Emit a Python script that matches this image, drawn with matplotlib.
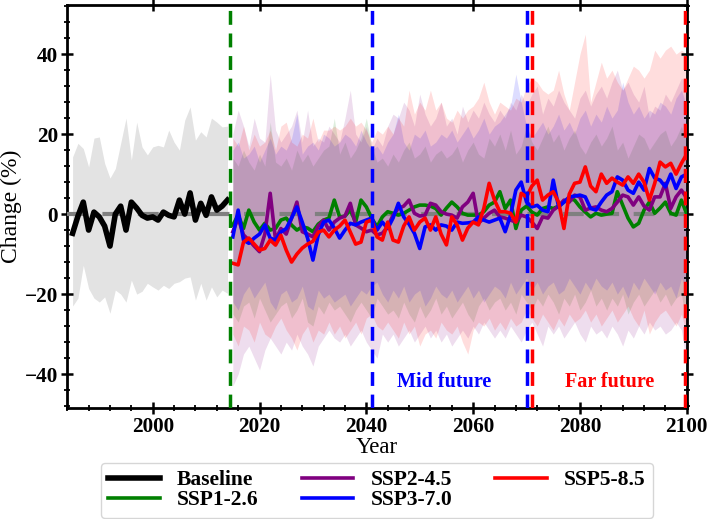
import matplotlib
matplotlib.use("Agg")
import matplotlib.pyplot as plt
import numpy as np
from matplotlib.ticker import MultipleLocator

plt.rcParams['font.family'] = ['Liberation Serif', 'DejaVu Serif']

# ---- baseline (1985-2014) ----
base_years = list(range(1985, 2015))
base_mean = [-4.8, -0.5, 3.0, -4.0, 0.5, -0.7, -3.0, -8.0, 0.0, 2.0,
             -4.0, 3.0, 1.5, -0.3, -1.0, -0.7, -1.5, 0.5, -0.3, -0.7,
             3.5, 0.0, 5.3, -1.5, 2.7, -0.3, 4.3, 1.0, 2.0, 3.5]
base_upper = [14.3, 17.7, 16.4, 11.8, 19.0, 19.3, 12.7, 9.0, 11.4, 17.7,
              24.0, 13.5, 23.0, 16.8, 14.8, 16.8, 17.2, 16.8, 21.0, 18.0,
              16.0, 23.5, 26.8, 18.5, 20.6, 19.3, 24.0, 23.0, 21.8, 22.0]
base_lower = [-23.0, -21.0, -12.8, -18.6, -21.0, -22.0, -20.7, -24.8, -19.0, -20.0,
              -22.0, -16.5, -20.0, -19.3, -17.3, -18.2, -19.0, -17.8, -18.6, -17.3,
              -16.9, -16.0, -15.7, -21.5, -17.3, -21.5, -18.2, -20.7, -19.0, -19.8]

# ---- scenarios (2015-2100) ----
ssp_years = list(range(2015, 2101))

ssp126_mean = [-2.75, -0.25, -3.6, 1.0, -2.0, -4.0, -2.3, -4.0, -3.6, -1.5,
               -1.0, -2.75, -4.0, -3.2, -3.5, -4.4, -2.5, -1.5, -1.0, 3.5,
               -0.7, -0.5, 1.0, -2.0, 3.5, 1.8, -1.0, -3.2, -0.7, 0.6,
               0.2, -0.25, 0.2, 1.0, 1.8, 2.25, 2.25, 2.0, 1.4, -0.25,
               1.5, 3.0, 1.8, 0.2, -0.25, -0.25, -0.25, 0.6, 2.25, 3.0,
               5.6, 1.4, 3.5, -3.6, 1.0, 2.0, 0.5, -0.25, 1.4, 1.8,
               1.4, 2.0, 3.0, 3.9, 3.5, 1.8, 0.5, -0.7, 0.2, -0.25,
               0.0, 0.2, 5.6, 2.25, -1.0, -3.2, -2.3, 1.0, 3.0, 0.2,
               1.5, 3.0, 0.2, -0.25, 3.5, 0.0]
ssp245_mean = [-4.4, -1.0, -5.2, -6.5, -8.0, -9.4, -5.0, 5.2, -6.5, -3.6,
               -5.0, -1.0, 3.0, -4.4, -5.0, -5.7, -3.0, -1.5, -4.0, -2.0,
               -1.0, -0.5, 2.7, -2.7, -3.5, -4.4, -4.0, -5.2, -4.8, -3.2,
               -0.25, 1.4, 2.0, 3.5, 0.2, -0.5, -0.25, 2.7, 2.25, 0.6,
               0.0, -0.25, -1.0, 1.8, 3.0, 5.2, -2.3, -1.0, 0.2, 1.0,
               -0.7, -1.0, -1.5, -2.0, -0.25, -0.7, -2.0, -3.6, -0.7, -1.0,
               1.0, 2.0, 3.5, 3.0, 4.75, 4.3, 1.0, 1.5, 1.8, 1.0,
               0.6, 1.4, 3.0, 4.75, 4.3, 2.25, 4.3, 2.0, 1.0, 4.3,
               4.3, 7.7, 1.4, 4.3, 6.0, 4.0]
ssp370_mean = [-5.7, 1.0, -6.5, -7.3, -6.0, -5.0, -2.7, -6.0, -6.5, -4.5,
               -3.6, -1.0, 1.8, -2.0, -6.0, -11.5, -5.2, -2.0, -1.5, -3.5,
               -6.0, -4.0, -2.3, -2.7, -2.0, -1.5, -1.0, -4.0, -2.0, -3.6,
               -1.0, 2.7, -0.7, -2.5, -4.8, -8.6, -3.2, -2.7, -4.0, -2.7,
               -3.0, -4.0, -2.0, -2.3, -2.2, -2.0, -0.7, -1.5, -2.0, -1.5,
               -1.0, -4.4, -0.3, 6.0, 8.0, 3.0, 1.8, 2.2, 1.0, 0.6,
               8.5, 1.8, 3.0, 4.3, 4.5, 4.75, 4.3, 1.4, 1.0, 3.0,
               4.75, 5.6, 9.3, 8.5, 6.0, 5.2, 8.0, 6.0, 11.4, 9.0,
               8.5, 6.8, 10.0, 6.4, 9.3, 10.0]
ssp585_mean = [-12.3, -12.7, -7.0, -6.0, -7.5, -9.0, -8.6, -6.5, -7.75, -5.3,
               -9.0, -12.0, -10.0, -8.5, -7.5, -6.8, -4.5, -4.0, -5.7, -4.0,
               -3.0, -1.5, -4.5, -7.5, -7.0, -2.0, -1.5, -5.7, -6.5, -2.0,
               -6.5, -7.0, -3.0, -0.7, -4.0, -2.0, -1.0, -4.0, -0.7, -5.0,
               -7.7, -0.7, -2.7, -6.5, -3.5, -2.0, -2.7, 1.4, 7.7, 3.5,
               0.6, 0.6, 0.2, -2.0, 5.2, 4.3, 7.0, 8.5, 3.5, 4.75,
               5.6, 3.0, -3.6, 5.0, 7.7, 8.0, 11.8, 7.0, 5.6, 10.0,
               7.7, 9.0, 8.0, 7.25, 9.3, 7.7, 10.0, 8.0, 3.5, 7.7,
               13.0, 11.8, 12.7, 10.0, 12.7, 15.0]

ssp126_upper = [14, 12, 16, 13, 11, 15, 12, 23, 13, 12,
                14, 11, 16, 13, 15, 12, 14, 16, 17, 24,
                15, 18, 14, 16, 19, 24, 17, 13, 14, 12,
                15, 13, 16, 18, 14, 15, 17, 13, 15, 16,
                14, 15, 17, 13, 16, 18, 15, 14, 19, 17,
                20, 16, 21, 15, 17, 22, 18, 16, 19, 22,
                18, 20, 16, 19, 21, 17, 15, 18, 20, 17,
                19, 22, 16, 18, 14, 17, 20, 19, 16, 18,
                20, 21, 17, 19, 22, 18]
ssp245_upper = [20, 26, 22, 17, 24, 19, 18, 35, 21, 18,
                20, 22, 26, 18, 26, 17, 19, 18, 22, 20,
                18, 24, 31, 20, 18, 22, 16, 19, 17, 22,
                25, 24, 28, 26, 22, 30, 25, 22, 24, 28,
                22, 24, 20, 27, 23, 26, 24, 28, 25, 23,
                26, 24, 28, 26, 30, 27, 30, 32, 25, 29,
                27, 31, 28, 26, 24, 29, 31, 27, 30, 32,
                29, 33, 36, 31, 33, 30, 28, 32, 24, 27,
                26, 30, 28, 31, 34, 33]
ssp370_upper = [16, 18, 14, 15, 17, 13, 16, 19, 15, 17,
                16, 19, 25, 15, 17, 18, 16, 20, 19, 17,
                18, 20, 19, 17, 21, 18, 16, 17, 15, 18,
                20, 25, 18, 16, 20, 19, 21, 17, 18, 20,
                19, 21, 18, 20, 22, 19, 21, 24, 20, 22,
                23, 25, 27, 35, 28, 22, 19, 21, 23, 20,
                22, 25, 21, 23, 20, 24, 26, 22, 25, 23,
                27, 24, 26, 33, 28, 25, 27, 24, 26, 25,
                28, 27, 25, 29, 31, 27]
ssp585_upper = [19, 17, 22, 16, 20, 17, 18, 21, 16, 22,
                23, 18, 17, 20, 19, 24, 18, 21, 21, 22,
                21, 22, 24, 22, 23, 21, 18, 21, 20, 22,
                20, 24, 22, 31, 25, 28, 26, 31, 26, 28,
                24, 23, 26, 24, 26, 27, 29, 33, 28, 25,
                28, 27, 26, 29, 28, 32, 34, 33, 31, 30,
                31, 36, 30, 26, 33, 40, 45, 28, 33, 38,
                34, 36, 33, 31, 34, 37, 36, 34, 36, 41,
                39, 41, 42, 40, 41, 40]

ssp126_lower = [-25, -27, -23, -22, -26, -21, -24, -27, -25, -23,
                -22, -26, -24, -21, -27, -28, -23, -25, -22, -24,
                -23, -25, -27, -24, -22, -24, -26, -21, -23, -25,
                -24, -26, -22, -25, -27, -23, -26, -24, -21, -25,
                -23, -26, -24, -22, -25, -27, -23, -21, -24, -22,
                -21, -24, -22, -25, -20, -22, -24, -21, -23, -20,
                -22, -25, -21, -23, -20, -24, -22, -19, -23, -21,
                -24, -21, -23, -20, -25, -22, -20, -23, -21, -19,
                -22, -20, -23, -21, -20, -28]
ssp245_lower = [-43, -40, -35, -33, -36, -39, -34, -31, -33, -35,
                -32, -34, -30, -33, -35, -38, -33, -31, -29, -31,
                -32, -30, -33, -31, -29, -32, -34, -36, -30, -32,
                -30, -33, -31, -29, -32, -30, -28, -31, -29, -32,
                -30, -33, -31, -29, -31, -28, -30, -27, -29, -31,
                -29, -31, -28, -30, -32, -29, -27, -30, -33, -28,
                -30, -28, -31, -29, -27, -30, -32, -28, -30, -29,
                -31, -28, -30, -33, -29, -31, -28, -30, -27, -29,
                -28, -30, -29, -27, -29, -38]
ssp370_lower = [-22, -24, -20, -18, -21, -19, -17, -22, -24, -20,
                -19, -22, -21, -18, -23, -24, -19, -21, -20, -22,
                -21, -20, -23, -21, -19, -20, -18, -17, -20, -22,
                -19, -21, -18, -22, -20, -19, -23, -21, -18, -20,
                -21, -19, -22, -20, -18, -21, -19, -22, -20, -18,
                -19, -21, -17, -20, -18, -16, -19, -17, -20, -18,
                -17, -20, -19, -16, -18, -20, -17, -19, -16, -18,
                -19, -17, -20, -18, -21, -17, -19, -16, -18, -20,
                -17, -19, -18, -21, -16, -19]
ssp585_lower = [-30, -33, -28, -29, -32, -27, -30, -31, -28, -26,
                -29, -31, -34, -30, -28, -32, -29, -30, -27, -30,
                -28, -31, -29, -27, -30, -26, -25, -28, -29, -27,
                -29, -31, -27, -30, -28, -33, -30, -29, -31, -27,
                -29, -30, -28, -32, -35, -29, -27, -28, -26, -29,
                -27, -29, -26, -28, -27, -24, -26, -28, -25, -27,
                -29, -26, -28, -25, -27, -26, -24, -27, -25, -28,
                -26, -24, -27, -25, -23, -26, -28, -24, -30, -27,
                -25, -24, -26, -28, -25, -30]

scenarios = [
    ("SSP1-2.6", "green", ssp126_mean, ssp126_upper, ssp126_lower),
    ("SSP2-4.5", "purple", ssp245_mean, ssp245_upper, ssp245_lower),
    ("SSP3-7.0", "blue", ssp370_mean, ssp370_upper, ssp370_lower),
    ("SSP5-8.5", "red", ssp585_mean, ssp585_upper, ssp585_lower),
]

# period boundaries
near_start = 2014.5
mid_start, mid_end = 2041, 2070
far_start, far_end = 2071, 2099.6

fig = plt.figure(figsize=(7.08, 5.19), dpi=100)
ax = fig.add_axes([0.095, 0.2145, 0.875, 0.776])

ax.fill_between(base_years, base_lower, base_upper, color='grey', alpha=0.22, lw=0)
for name, col, m, up, lo in scenarios:
    ax.fill_between(ssp_years, lo, up, color=col, alpha=0.135, lw=0)

ax.axhline(0, color='grey', lw=3, ls=(0, (5, 3.5)), zorder=3)

handles = []
h, = ax.plot(base_years, base_mean, color='black', lw=4, zorder=5, label='Baseline')
handles.append(h)
for name, col, m, up, lo in scenarios:
    h, = ax.plot(ssp_years, m, color=col, lw=2.6, zorder=5, label=name)
    handles.append(h)

dash = (0, (4, 2.5))
ax.axvline(near_start, color='green', lw=2.5, ls=dash, zorder=6)
ax.axvline(mid_start, color='blue', lw=2.5, ls=dash, zorder=6)
ax.axvline(mid_end, color='blue', lw=2.5, ls=dash, zorder=6)
ax.axvline(far_start, color='red', lw=2.5, ls=dash, zorder=6)
ax.axvline(far_end, color='red', lw=2.5, ls=dash, zorder=6)

ax.text(2054.5, -42, 'Mid future', color='blue', fontsize=14.5, fontweight='bold',
        ha='center', va='center')
ax.text(2085.5, -42, 'Far future', color='red', fontsize=14.5, fontweight='bold',
        ha='center', va='center')

ax.set_xlim(1984, 2100)
ax.set_ylim(-48.4, 52.3)
ax.xaxis.set_major_locator(MultipleLocator(20))
ax.xaxis.set_minor_locator(MultipleLocator(4))
ax.yaxis.set_major_locator(MultipleLocator(20))
ax.yaxis.set_minor_locator(MultipleLocator(4))
ax.tick_params(which='major', direction='inout', length=9, width=1.8,
               labelsize=15.3, top=True, right=True, pad=2)
ax.tick_params(which='minor', direction='inout', length=5, width=1.3,
               bottom=True, left=True, right=True, top=False)
for lab in ax.get_xticklabels() + ax.get_yticklabels():
    lab.set_fontweight('bold')
for sp in ax.spines.values():
    sp.set_linewidth(2)

ax.set_xlabel('Year', fontsize=16.5, labelpad=0)
ax.set_ylabel('Change (%)', fontsize=17, labelpad=2)

ax.legend(handles=handles, loc='upper center', bbox_to_anchor=(0.5, -0.11),
          ncol=3, prop={'weight': 'bold', 'size': 15.5}, handlelength=2.4,
          handletextpad=0.8, columnspacing=2.0, labelspacing=0.0,
          borderpad=0.35, frameon=True)

fig.savefig('out.png', dpi=100)
